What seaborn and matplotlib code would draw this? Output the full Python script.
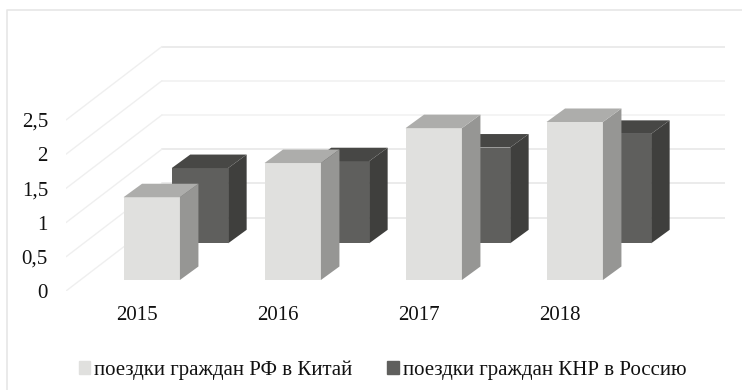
import numpy as np
import seaborn as sns
import matplotlib
matplotlib.use("Agg")
import matplotlib.pyplot as plt
from matplotlib.patches import Polygon, Patch

years = [2015, 2016, 2017, 2018]
china_trips = [1.21, 1.71, 2.22, 2.31]
russia_trips = [1.10, 1.20, 1.40, 1.60]
y_ticks = [0, 0.5, 1, 1.5, 2, 2.5]
y_tick_labels = ["0", "0,5", "1", "1,5", "2", "2,5"]
label_china = "поездки граждан РФ в Китай"
label_russia = "поездки граждан КНР в Россию"

W, H = 742, 390
PX_X = 141.0      # pixels per year
PX_Y = 68.4       # pixels per unit
LEFT, RIGHT, TOP, BOTTOM = 66, 725, 10, 291
FS = 15

sns.set_theme(style="white")
plt.rcParams["font.family"] = ["Liberation Serif", "DejaVu Serif"]

fig = plt.figure(figsize=(W / 100, H / 100), dpi=100, facecolor="white")
ax = fig.add_axes([LEFT / W, 1 - BOTTOM / H, (RIGHT - LEFT) / W, (BOTTOM - TOP) / H])
x0 = years[0] - (136.5 - LEFT) / PX_X
x1 = x0 + (RIGHT - LEFT) / PX_X
ax.patch.set_alpha(0)


def ox(px):
    return px / PX_X


def oy(px):
    return px / PX_Y


# walls and floor grid
WALL_DX, WALL_DY = 96, 73.5
grid_alpha = [1, 1, 1, 0.55, 0.6, 1]
for v, a in zip(y_ticks, grid_alpha):
    ax.plot([x0 + ox(WALL_DX), x1], [v + oy(WALL_DY)] * 2, color="#E9E9E9", lw=1.3, alpha=a, zorder=1)
    ax.plot([x0, x0 + ox(WALL_DX)], [v, v + oy(WALL_DY)], color="#EFEFEF", lw=1.0, zorder=1)


def draw_series(values, x_off, base_px, front, side, top, z):
    xs = np.array(years) + x_off
    base = oy(base_px)
    sns.barplot(x=xs, y=values, native_scale=True, width=0.4, color=front, saturation=1,
                bottom=base, ax=ax, zorder=z, linewidth=0, legend=False)
    w = 0.2
    dx, dy = ox(18.5), oy(13.5)
    for x, v in zip(xs, values):
        xr, yb, yt = x + w, base, base + v
        ax.add_patch(Polygon([(xr, yb), (xr + dx, yb + dy), (xr + dx, yt + dy), (xr, yt)],
                             facecolor=side, edgecolor="none", zorder=z))
        ax.add_patch(Polygon([(x - w, yt), (xr, yt), (xr + dx, yt + dy), (x - w + dx, yt + dy)],
                             facecolor=top, edgecolor="none", zorder=z))


draw_series(russia_trips, 0.45, 47.7, "#5F5F5D", "#3F3F3D", "#474745", 3)
draw_series(china_trips, 0.108, 11, "#E0E0DE", "#969694", "#ADADAB", 4)

ax.set_xlim(x0, x1)
ax.set_ylim(0, (BOTTOM - TOP) / PX_Y)
ax.set_xticks(years)
ax.set_xticklabels([str(y) for y in years])
ax.set_yticks(y_ticks)
ax.set_yticklabels(y_tick_labels)
ax.set_xlabel("")
ax.set_ylabel("")
ax.tick_params(axis="y", length=0, pad=13, labelsize=FS, labelcolor="#111111")
ax.tick_params(axis="x", length=0, pad=11, labelsize=FS, labelcolor="#111111")
sns.despine(ax=ax, left=True, bottom=True)

fig.add_artist(plt.Line2D([7 / W, 7 / W, 1], [0, 1 - 10 / H, 1 - 10 / H], color="#E6E6E6", lw=1.2))

handles = [Patch(color="#E0E0DE", label=label_china), Patch(color="#5F5F5D", label=label_russia)]
fig.legend(handles=handles, loc="center", bbox_to_anchor=(382.5 / W, 1 - 370 / H), ncols=2, frameon=False,
           fontsize=FS, handlelength=0.55, handleheight=0.55, handletextpad=0.2, columnspacing=1.65,
           labelcolor="#111111", borderpad=0)

fig.savefig("out.png", dpi=100)
